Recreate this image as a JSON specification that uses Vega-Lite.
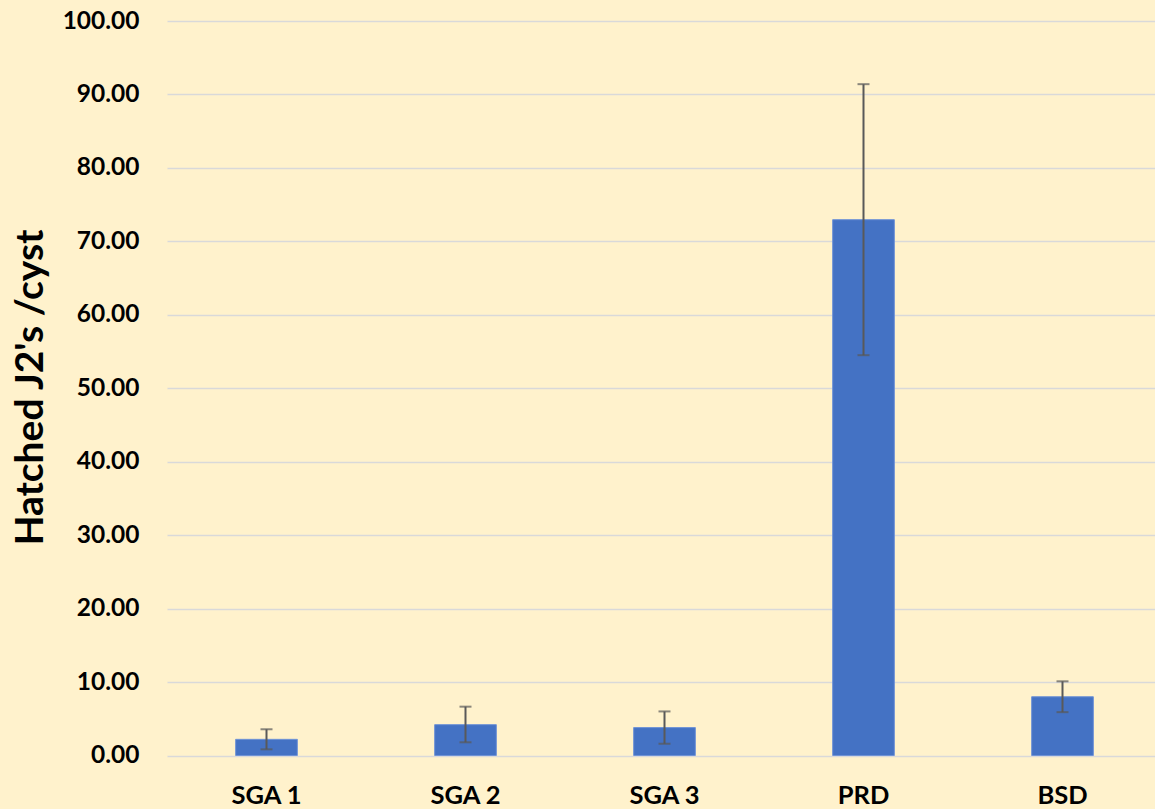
{
  "$schema": "https://vega.github.io/schema/vega-lite/v6.json",
  "autosize": {"type": "none"},
  "padding": {"left": 167, "top": 21, "right": 0, "bottom": 53.5},
  "width": 995,
  "height": 734.5,
  "background": "#FFF2CC",
  "config": {
    "view": {"stroke": null},
    "font": "Lato"
  },
  "data": {
    "values": [
      {"group": "SGA 1", "mean": 2.2, "lo": 0.84, "hi": 3.57},
      {"group": "SGA 2", "mean": 4.2, "lo": 1.8, "hi": 6.65},
      {"group": "SGA 3", "mean": 3.8, "lo": 1.6, "hi": 6.0},
      {"group": "PRD", "mean": 72.95, "lo": 54.5, "hi": 91.4},
      {"group": "BSD", "mean": 8.0, "lo": 5.9, "hi": 10.1}
    ]
  },
  "encoding": {
    "x": {
      "field": "group",
      "type": "nominal",
      "sort": null,
      "scale": {"paddingInner": 0.69, "paddingOuter": 0.345},
      "axis": {
        "title": null,
        "labelAngle": 0,
        "domain": false,
        "ticks": false,
        "labelFontSize": 25.5,
        "labelFontWeight": "bold",
        "labelColor": "#000000",
        "labelBaseline": "middle",
        "labelPadding": 40
      }
    }
  },
  "layer": [
    {
      "mark": {"type": "bar", "color": "#4472C4", "stroke": "#6F93D6", "strokeWidth": 1},
      "encoding": {
        "y": {
          "field": "mean",
          "type": "quantitative",
          "scale": {"domain": [0, 100], "nice": false},
          "axis": {
            "title": "Hatched J2's /cyst",
            "titleFontSize": 39,
            "titleFontWeight": "bold",
            "titleColor": "#000000",
            "titleAngle": -90,
            "titleX": -137,
            "titleY": 366,
            "titleAlign": "center",
            "titleBaseline": "middle",
            "values": [0, 10, 20, 30, 40, 50, 60, 70, 80, 90, 100],
            "format": ".2f",
            "domain": false,
            "ticks": false,
            "labelPadding": 28,
            "labelFontSize": 24.5,
            "labelFontWeight": "bold",
            "labelColor": "#000000",
            "grid": true,
            "gridColor": "#D9D9D9",
            "gridWidth": 1.5
          }
        }
      }
    },
    {
      "mark": {"type": "rule", "color": "#595959", "strokeWidth": 2},
      "encoding": {
        "y": {"field": "lo", "type": "quantitative"},
        "y2": {"field": "hi"}
      }
    },
    {
      "mark": {"type": "tick", "color": "#595959", "orient": "horizontal", "size": 12, "thickness": 2},
      "encoding": {
        "y": {"field": "lo", "type": "quantitative"}
      }
    },
    {
      "mark": {"type": "tick", "color": "#595959", "orient": "horizontal", "size": 12, "thickness": 2},
      "encoding": {
        "y": {"field": "hi", "type": "quantitative"}
      }
    }
  ]
}
